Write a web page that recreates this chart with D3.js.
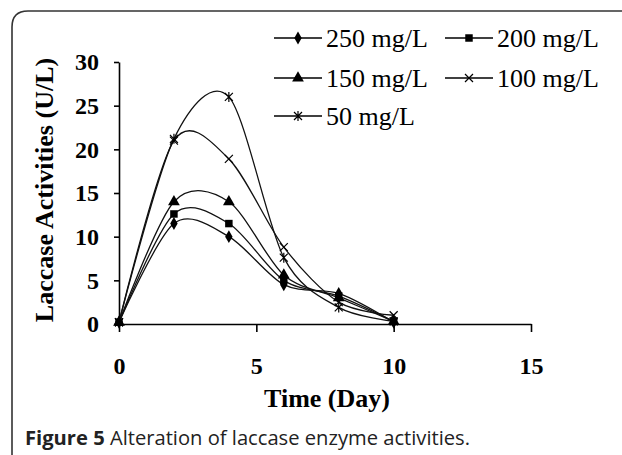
<!DOCTYPE html>
<html lang="en">
<head>
<meta charset="UTF-8">
<title>Laccase activities</title>
<style>
  body { margin: 0; background: #fff; }
  svg { display: block; }
  .axis path, .axis line { stroke: #000; stroke-width: 1.6; }
  .axis text { font-family: "Liberation Serif", "Times New Roman", serif; font-weight: bold; font-size: 24px; fill: #000; }
  .series { fill: none; stroke: #111; stroke-width: 1.3; }
  .legend text { font-family: "Liberation Serif", "Times New Roman", serif; font-size: 26px; fill: #000; }
</style>
<script src="https://d3js.org/d3.v7.min.js"></script>
</head>
<body>
<div class="graph"></div>
<script>
// data
const days = [0, 2, 4, 6, 8, 10]
const seriesNames = ['250 mg/L', '200 mg/L', '150 mg/L', '100 mg/L', '50 mg/L']
const v250 = [0.2, 11.5, 10.0, 4.5, 3.5, 0.2]
const v200 = [0.2, 12.6, 11.5, 5.0, 3.2, 0.3]
const v150 = [0.2, 14.0, 14.0, 5.6, 3.0, 0.3]
const v100 = [0.2, 21.0, 18.9, 8.8, 2.5, 1.0]
const v50 = [0.2, 21.2, 26.0, 7.6, 1.9, 0.3]
const markers = ['diamond', 'square', 'triangle', 'cross', 'star']
const xTicks = [0, 5, 10, 15]
const yTicks = [0, 5, 10, 15, 20, 25, 30]

const values = [v250, v200, v150, v100, v50]
const series = seriesNames.map((name, i) => ({
    name: name,
    marker: markers[i],
    points: days.map((d, j) => ({ day: d, val: values[i][j] }))
}))

const width = 622, height = 455

const svg = d3.select('.graph').append('svg')
    .attr('width', width)
    .attr('height', height)

// frame with rounded top-left corner
svg.append('path')
    .attr('d', 'M12,456 V27 Q12,11 28,11 H623')
    .attr('fill', 'none')
    .attr('stroke', '#333')
    .attr('stroke-width', 1.6)

const x = d3.scaleLinear().domain([0, 15]).range([119, 531])
const y = d3.scaleLinear().domain([0, 30]).range([324, 62])

svg.append('g')
    .attr('class', 'axis')
    .attr('transform', `translate(0, ${y(0)})`)
    .call(d3.axisBottom(x).tickValues(xTicks).tickSize(8).tickSizeOuter(0).tickPadding(25))

svg.append('g')
    .attr('class', 'axis')
    .attr('transform', `translate(${x(0)}, 0)`)
    .call(d3.axisLeft(y).tickValues(yTicks).tickSize(5).tickSizeOuter(0).tickPadding(15))

// axis titles
svg.append('text')
    .attr('x', 327).attr('y', 407)
    .attr('text-anchor', 'middle')
    .style('font-family', '"Liberation Serif", serif')
    .style('font-weight', 'bold')
    .style('font-size', '26px')
    .text('Time (Day)')

svg.append('text')
    .attr('transform', 'translate(53, 190) rotate(-90)')
    .attr('text-anchor', 'middle')
    .style('font-family', '"Liberation Serif", serif')
    .style('font-weight', 'bold')
    .style('font-size', '26px')
    .text('Laccase Activities (U/L)')

// marker drawing
const drawMarker = (g, type) => {
    if (type === 'diamond') {
        g.append('path').attr('d', d3.symbol(d3.symbolDiamond, 48)()).attr('fill', '#000')
    } else if (type === 'square') {
        g.append('path').attr('d', d3.symbol(d3.symbolSquare, 56)()).attr('fill', '#000')
    } else if (type === 'triangle') {
        g.append('path').attr('d', d3.symbol(d3.symbolTriangle, 60)()).attr('fill', '#000')
    } else if (type === 'cross') {
        g.append('path').attr('d', 'M-4,-4 L4,4 M-4,4 L4,-4')
            .attr('stroke', '#000').attr('stroke-width', 1.2).attr('fill', 'none')
    } else {
        g.append('path').attr('d', 'M-4,-4 L4,4 M-4,4 L4,-4 M0,-5 V5')
            .attr('stroke', '#000').attr('stroke-width', 1.2).attr('fill', 'none')
    }
}

const line = d3.line()
    .x(d => x(d.day))
    .y(d => y(d.val))
    .curve(d3.curveCardinal.tension(0.1))

const plot = svg.append('g')
series.forEach(s => {
    plot.append('path')
        .attr('class', 'series')
        .attr('d', line(s.points))
})
series.forEach(s => {
    s.points.forEach(p => {
        const g = plot.append('g').attr('transform', `translate(${x(p.day)}, ${y(p.val)})`)
        drawMarker(g, s.marker)
    })
})

// legend, two columns
const legCols = [274, 445], legRows = [38, 78, 116]
const legend = svg.append('g').attr('class', 'legend')
series.forEach((s, i) => {
    const lx = legCols[i % 2], ly = legRows[Math.floor(i / 2)]
    const g = legend.append('g').attr('transform', `translate(${lx}, ${ly})`)
    g.append('line').attr('x1', 0).attr('x2', 48).attr('y1', 0).attr('y2', 0)
        .attr('stroke', '#000').attr('stroke-width', 1.4)
    drawMarker(g.append('g').attr('transform', 'translate(24, 0)'), s.marker)
    g.append('text').attr('x', 52).attr('y', 9).text(s.name)
})

// caption
const cap = svg.append('text')
    .attr('x', 25).attr('y', 445)
    .style('font-family', '"Open Sans", "Noto Sans", sans-serif')
    .style('font-size', '20px')
    .style('fill', '#222')
cap.append('tspan').style('font-weight', 'bold').text('Figure 5')
cap.append('tspan').text(' Alteration of laccase enzyme activities.')
const capW = cap.node().getComputedTextLength()
cap.style('font-size', (20 * 445 / capW).toFixed(2) + 'px')
</script>
</body>
</html>
